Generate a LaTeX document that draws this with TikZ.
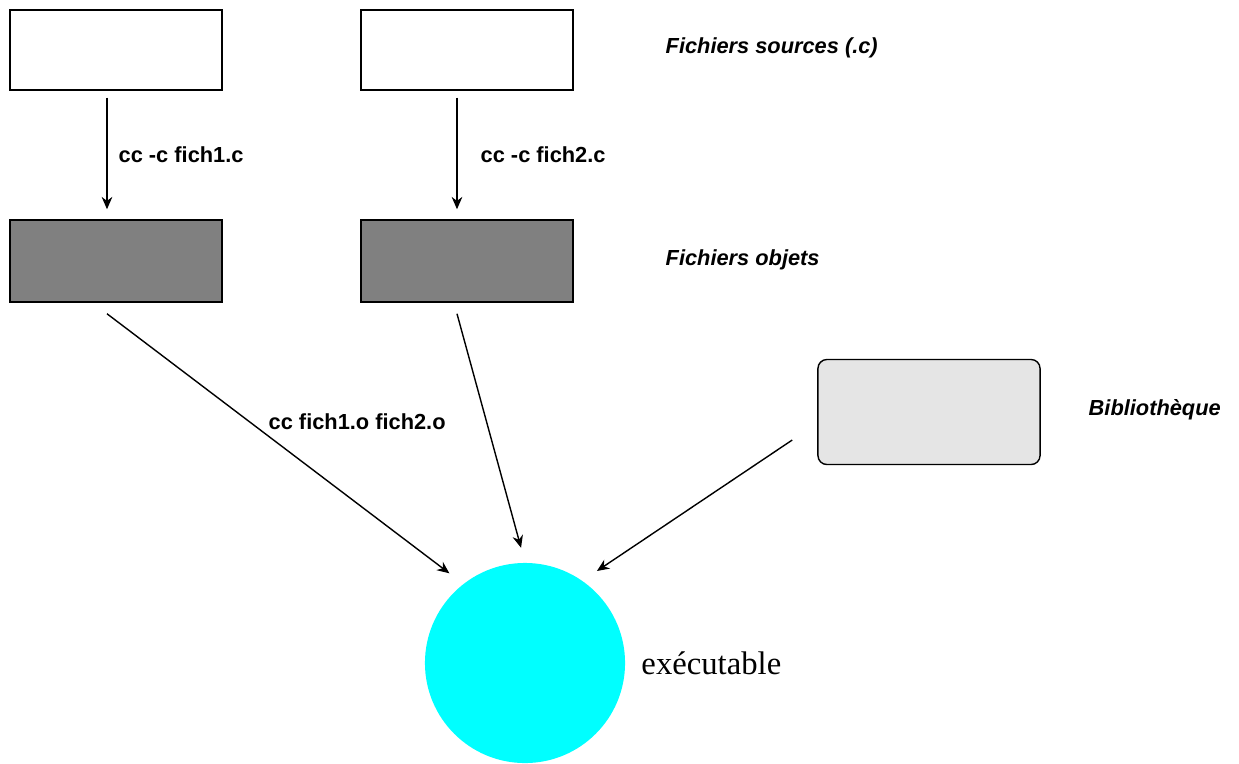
\documentclass[tikz,border=0pt]{standalone}
\usepackage{fontspec}
\setmainfont{Liberation Serif}
\setsansfont{Liberation Sans}
\usetikzlibrary{positioning, arrows.meta}

\definecolor{objgray}{RGB}{128,128,128}
\definecolor{libgray}{RGB}{229,229,229}
\definecolor{execyan}{RGB}{0,255,255}

\tikzset{
    srcbox/.style={draw, fill=white, minimum width=2.12cm, minimum height=0.8cm, inner sep=0pt},
    objbox/.style={draw, fill=objgray, minimum width=2.12cm, minimum height=0.82cm, inner sep=0pt},
    libbox/.style={draw, fill=libgray, rounded corners=0.09cm, minimum width=2.22cm, minimum height=1.05cm, inner sep=0pt},
    exenode/.style={circle, fill=execyan, minimum size=2cm, inner sep=0pt},
    lab/.style={font=\sffamily\bfseries\fontsize{6.2}{7}\selectfont, anchor=west, inner sep=0pt},
    legend/.style={font=\sffamily\bfseries\itshape\fontsize{6.2}{7}\selectfont, anchor=west, inner sep=0pt},
    arr/.style={-{Stealth[length=3.5pt, width=3pt]}, semithick},
    link/.style={-{Stealth[length=3.5pt, width=3pt]}, thin}
}

\begin{document}
\begin{tikzpicture}[x=0.01cm, y=-0.01cm]
    \useasboundingbox (0,0) rectangle (1239,763);
    % sources
    \node[srcbox] (src1) at (116,50) {};
    \node[srcbox] (src2) at (467,50) {};
    % objets
    \node[objbox] (obj1) at (116,261) {};
    \node[objbox] (obj2) at (467,261) {};
    % bibliotheque et executable
    \node[libbox] (lib) at (929,412) {};
    \node[exenode] (exe) at (525,663) {};
    \node[right=0.15cm of exe, inner sep=0pt, font=\fontsize{9.3}{11}\selectfont] (exelab) {exécutable};
    % legendes
    \node[legend] (srclab) at (665,48) {Fichiers sources (.c)};
    \node[legend] (objlab) at (665,260) {Fichiers objets};
    \node[legend] (liblab) at (1088,410) {Bibliothèque};
    \node[lab] (cc1) at (118,155) {cc -c fich1.c};
    \node[lab] (cc2) at (480,155) {cc -c fich2.c};
    \node[lab] (ld) at (268,422) {cc fich1.o fich2.o};
    % compilation
    \draw[arr, shorten <=0.07cm, shorten >=0.1cm] ([xshift=-0.09cm]src1.south) -- ([xshift=-0.09cm]obj1.north);
    \draw[arr, shorten <=0.07cm, shorten >=0.1cm] ([xshift=-0.1cm]src2.south) -- ([xshift=-0.1cm]obj2.north);
    % edition de liens
    \draw[link, shorten >=0.17cm] ([xshift=-0.09cm, yshift=-0.11cm]obj1.south) -- (exe.128);
    \draw[link, shorten >=0.15cm] ([xshift=-0.1cm, yshift=-0.11cm]obj2.south) -- (exe.north);
    \draw[link, shorten >=0.17cm] ([xshift=-0.25cm, yshift=-0.28cm]lib.west) -- (exe.55);
\end{tikzpicture}
\end{document}
